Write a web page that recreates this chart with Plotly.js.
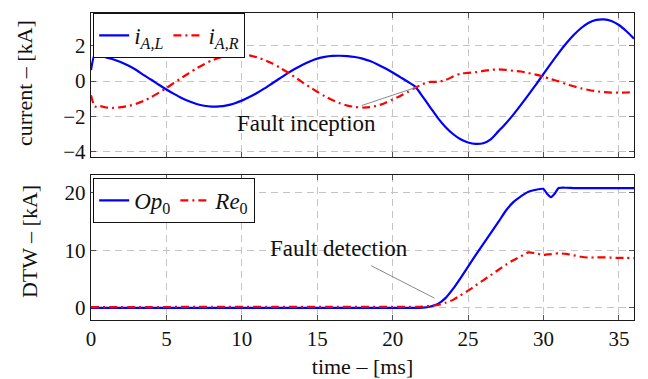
<!DOCTYPE html>
<html>
<head>
<meta charset="utf-8">
<script src="https://cdn.plot.ly/plotly-3.0.1.min.js"></script>
<style>html,body{margin:0;padding:0;background:#fff;}#chart{width:648px;height:379px;}</style>
</head>
<body>
<div id="chart"></div>
<script>
// ---- data ----
const tTop = [0,0.25,0.5,0.75,1,1.5,2,2.5,3,3.5,4,4.5,5,5.5,6,6.5,7,7.5,8,8.5,9,9.5,10,10.5,11,11.5,12,12.5,13,13.5,14,14.5,15,15.5,16,16.5,17,17.5,18,18.5,19,19.5,20,20.5,21,21.5,22,22.5,23,23.5,24,24.5,25,25.5,26,26.5,27,27.5,28,28.5,29,29.5,30,30.5,31,31.5,32,32.5,33,33.5,34,34.5,35,35.5,36];
const iAL = [0.62,1.52,1.38,1.40,1.33,1.22,1.06,0.86,0.62,0.33,0.07,-0.21,-0.48,-0.73,-0.96,-1.15,-1.30,-1.40,-1.45,-1.44,-1.38,-1.27,-1.11,-0.91,-0.68,-0.42,-0.14,0.14,0.42,0.68,0.91,1.11,1.27,1.37,1.42,1.43,1.41,1.36,1.27,1.13,0.94,0.72,0.48,0.22,-0.04,-0.32,-0.90,-1.50,-2.10,-2.60,-3.00,-3.30,-3.48,-3.56,-3.52,-3.30,-2.85,-2.40,-1.90,-1.35,-0.78,-0.20,0.40,1.00,1.58,2.12,2.60,3.00,3.30,3.46,3.49,3.40,3.17,2.82,2.40];
const iAR = [-0.80,-1.45,-1.38,-1.45,-1.50,-1.52,-1.48,-1.41,-1.29,-1.12,-0.91,-0.66,-0.40,-0.11,0.17,0.45,0.72,0.95,1.16,1.32,1.43,1.49,1.50,1.45,1.34,1.19,1.00,0.77,0.51,0.23,-0.06,-0.34,-0.61,-0.86,-1.08,-1.26,-1.39,-1.47,-1.50,-1.48,-1.39,-1.24,-1.05,-0.85,-0.62,-0.38,-0.17,-0.05,-0.04,0.05,0.25,0.42,0.46,0.50,0.57,0.63,0.66,0.63,0.58,0.54,0.45,0.36,0.25,0.10,-0.02,-0.17,-0.30,-0.42,-0.51,-0.58,-0.63,-0.66,-0.66,-0.65,-0.64];

const tBot = [0,4,8,12,16,20,21,21.5,22,22.5,23,23.5,24,24.5,25,25.5,26,26.5,27,27.5,28,28.5,29,29.5,30,30.25,30.5,30.75,31,31.5,32,32.5,33,33.5,34,34.5,35,35.5,36];
const op0 = [0.0,0.0,0.0,0.0,0.0,0.0,0.0,0.02,0.05,0.25,0.7,1.7,3.3,5.2,7.2,9.2,11.1,13.0,14.9,16.9,18.4,19.4,20.2,20.55,20.7,19.8,19.25,19.9,20.85,20.9,20.85,20.85,20.85,20.85,20.85,20.85,20.85,20.85,20.85];
const re0 = [0.15,0.15,0.2,0.2,0.2,0.2,0.2,0.2,0.25,0.35,0.5,0.9,1.4,2.2,3.0,3.9,4.8,5.7,6.6,7.5,8.3,9.0,9.65,9.5,9.2,9.3,9.35,9.45,9.5,9.4,9.15,8.9,8.75,8.8,8.8,8.75,8.7,8.7,8.65];

const topTicks = [-4,-2,0,2];
const botTicks = [0,10,20];
const xTicks = [0,5,10,15,20,25,30,35];

// ---- chart ----
const FONT = "'Liberation Serif', 'Times New Roman', 'DejaVu Serif', serif";
const blue = '#0000ff', red = '#ff0000';
const dashDot = '8px,4px,2px,4px';

const traces = [
  {x: tTop, y: iAL, type: 'scatter', mode: 'lines', name: '<i>i</i><sub><i>A,L</i></sub>',
   line: {color: blue, width: 2.2, shape: 'spline', smoothing: 0.6}, xaxis: 'x', yaxis: 'y', legend: 'legend'},
  {x: tTop, y: iAR, type: 'scatter', mode: 'lines', name: '<i>i</i><sub><i>A,R</i></sub>',
   line: {color: red, width: 2.2, dash: dashDot, shape: 'spline', smoothing: 0.6}, xaxis: 'x', yaxis: 'y', legend: 'legend'},
  {x: tBot, y: op0, type: 'scatter', mode: 'lines', name: '<i>Op</i><sub>0</sub>',
   line: {color: blue, width: 2.2, shape: 'spline', smoothing: 0.5}, xaxis: 'x2', yaxis: 'y2', legend: 'legend2'},
  {x: tBot, y: re0, type: 'scatter', mode: 'lines', name: '<i>Re</i><sub>0</sub>',
   line: {color: red, width: 2.2, dash: dashDot, shape: 'spline', smoothing: 0.5}, xaxis: 'x2', yaxis: 'y2', legend: 'legend2'}
];

const axCommon = {
  showline: true, linecolor: '#1a1a1a', linewidth: 1.2, mirror: 'ticks',
  ticks: 'inside', ticklen: 5, tickcolor: '#555', tickwidth: 1,
  showgrid: true, gridcolor: '#c4c4c4', griddash: '7px,5px', gridwidth: 1,
  zeroline: false, tickfont: {family: FONT, size: 21, color: '#111'}
};

const legCommon = {
  orientation: 'h', xanchor: 'left', yanchor: 'top', bgcolor: '#fff',
  bordercolor: '#111', borderwidth: 1, font: {family: FONT, size: 23, color: '#111'},
  itemwidth: 30, tracegroupgap: 0
};

const txt = {family: FONT, size: 22, color: '#111'};

const layout = {
  width: 648, height: 379,
  margin: {l: 91, r: 14, t: 13, b: 59},
  paper_bgcolor: '#fff', plot_bgcolor: '#fff',
  font: {family: FONT, size: 21, color: '#111'},
  showlegend: true,
  xaxis: Object.assign({}, axCommon, {domain: [0, 1], anchor: 'y', range: [0, 36], tickvals: xTicks, showticklabels: false}),
  yaxis: Object.assign({}, axCommon, {domain: [0.531, 1], anchor: 'x', range: [-4.3, 3.85], tickvals: topTicks}),
  xaxis2: Object.assign({}, axCommon, {domain: [0, 1], anchor: 'y2', range: [0, 36], tickvals: xTicks,
    title: {text: 'time – [ms]', font: {family: FONT, size: 22}, standoff: 12}}),
  yaxis2: Object.assign({}, axCommon, {domain: [0, 0.472], anchor: 'x2', range: [-2.1, 23.1], tickvals: botTicks}),
  legend: Object.assign({}, legCommon, {x: 0.004, y: 1.0}),
  legend2: Object.assign({}, legCommon, {x: 0.004, y: 0.4625}),
  annotations: [
    {x: -0.1215, y: 0.772, xref: 'paper', yref: 'paper', xanchor: 'center', yanchor: 'middle',
     text: 'current – [kA]', textangle: -90, showarrow: false, font: txt},
    {x: -0.114, y: 0.254, xref: 'paper', yref: 'paper', xanchor: 'center', yanchor: 'middle',
     text: 'DTW – [kA]', textangle: -90, showarrow: false, font: txt},
    {x: 21.55, y: -0.36, xref: 'x', yref: 'y', ax: 14.28, ay: -2.43, axref: 'x', ayref: 'y',
     text: 'Fault inception', showarrow: true, arrowhead: 0, arrowwidth: 1, arrowcolor: '#8a8a8a',
     startstandoff: 14, font: {family: FONT, size: 23, color: '#111'}},
    {x: 22.77, y: 1.7, xref: 'x2', yref: 'y2', ax: 16.41, ay: 10.26, axref: 'x2', ayref: 'y2',
     text: 'Fault detection', showarrow: true, arrowhead: 0, arrowwidth: 1, arrowcolor: '#8a8a8a',
     startstandoff: 6, font: {family: FONT, size: 23, color: '#111'}}
  ]
};

Plotly.newPlot('chart', traces, layout, {staticPlot: true, displayModeBar: false});
</script>
</body>
</html>
